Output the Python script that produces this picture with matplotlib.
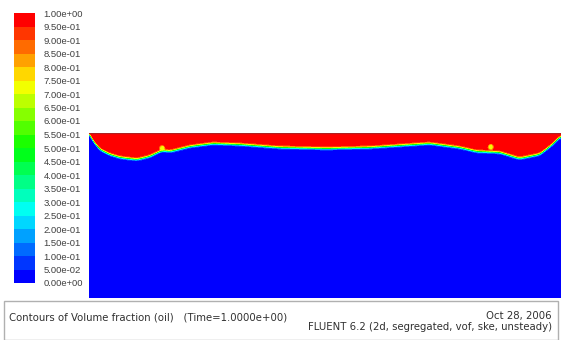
import numpy as np
import matplotlib
matplotlib.use("Agg")
import matplotlib.pyplot as plt
from matplotlib.colors import ListedColormap, BoundaryNorm, hsv_to_rgb
from matplotlib.patches import Rectangle

plt.rcParams['font.family'] = ['Liberation Sans', 'DejaVu Sans']

# oil/water interface height along the tank (normalised domain units)
interface_x = [0.0, 0.006, 0.023, 0.044, 0.066, 0.102, 0.129, 0.155, 0.172,
               0.214, 0.263, 0.320, 0.405, 0.504, 0.595, 0.722, 0.786, 0.822,
               0.871, 0.913, 0.956, 0.983, 1.0]
interface_y = [1.0, 0.958, 0.897, 0.867, 0.848, 0.836, 0.855, 0.891, 0.885,
               0.915, 0.933, 0.927, 0.909, 0.903, 0.909, 0.933, 0.909, 0.885,
               0.879, 0.842, 0.867, 0.927, 0.976]

# small entrained droplets sitting on the interface
drop_x = [0.155, 0.852]
drop_y = [0.905, 0.912]
drop_vof = [0.72, 0.72]

levels = np.round(np.arange(0.0, 1.0001, 0.05), 2)
time_value = 1.0
run_date = "Oct 28, 2006"
solver_info = "FLUENT 6.2 (2d, segregated, vof, ske, unsteady)"

# fluent-style banded rainbow, blue -> red
n_bands = len(levels) - 1
hues = (240.0 / 360.0) * (1.0 - np.arange(n_bands) / (n_bands - 1))
band_colors = hsv_to_rgb(np.column_stack([hues, np.ones(n_bands), np.ones(n_bands)]))
cmap = ListedColormap(band_colors)
norm = BoundaryNorm(levels, cmap.N)

# build the volume fraction field
nx, ny = 944, 330
xs = np.linspace(0, 1, nx)
ys = np.linspace(0, 1, ny)
X, Y = np.meshgrid(xs, ys)
yi = np.interp(xs, interface_x, interface_y)
# round off the kinks in the piecewise profile
k = 9
kern = np.ones(k) / k
yi = np.convolve(np.pad(yi, k // 2, mode='edge'), kern, mode='valid')
yi = np.convolve(np.pad(yi, k // 2, mode='edge'), kern, mode='valid')
vof = 0.5 * (1.0 + np.tanh((Y - yi[None, :]) / 0.009))
for dx, dy, dv in zip(drop_x, drop_y, drop_vof):
    g = np.exp(-(((X - dx) / 0.006) ** 2 + ((Y - dy) / 0.018) ** 2) ** 2)
    vof = vof + (dv - vof) * g
vof = np.clip(vof, 0, 0.9999)

W, H = 561, 340
fig = plt.figure(figsize=(W / 100, H / 100), dpi=100)
fig.patch.set_facecolor('white')

# contour domain
ax = fig.add_axes([89 / W, 1 - 298 / H, (W - 89) / W, 165 / H])
ax.imshow(vof, origin='lower', extent=[0, 1, 0, 1], cmap=cmap, norm=norm,
          aspect='auto', interpolation='nearest')
ax.axhline(1.0, color='#b02020', lw=1.0)
ax.set_xlim(0, 1)
ax.set_ylim(0, 1)
ax.axis('off')

# colour scale
cax = fig.add_axes([14 / W, 1 - 283 / H, 21 / W, 270 / H])
sm = plt.cm.ScalarMappable(cmap=cmap, norm=norm)
cb = fig.colorbar(sm, cax=cax, ticks=levels, boundaries=levels)
cb.outline.set_visible(False)
cb.ax.tick_params(length=0, pad=6, labelsize=6.8, labelcolor='#404040')
cb.ax.set_yticklabels(['%.2e' % v for v in levels])

# caption box
cap_font = dict(family='DejaVu Sans', fontsize=7.3, color='#303030')
fig.patches.append(Rectangle((4 / W, 0.0), 554 / W, 39 / H, transform=fig.transFigure,
                             facecolor='white', edgecolor='#b0b0b0', lw=1.0))
fig.text(9 / W, 1 - 318 / H,
         'Contours of Volume fraction (oil)   (Time=%.4e)' % time_value,
         va='center', ha='left', **cap_font)
fig.text(552 / W, 1 - 316 / H, run_date, va='center', ha='right', **cap_font)
fig.text(552 / W, 1 - 327 / H, solver_info, va='center', ha='right', **cap_font)

fig.savefig('out.png', dpi=100, facecolor='white')
